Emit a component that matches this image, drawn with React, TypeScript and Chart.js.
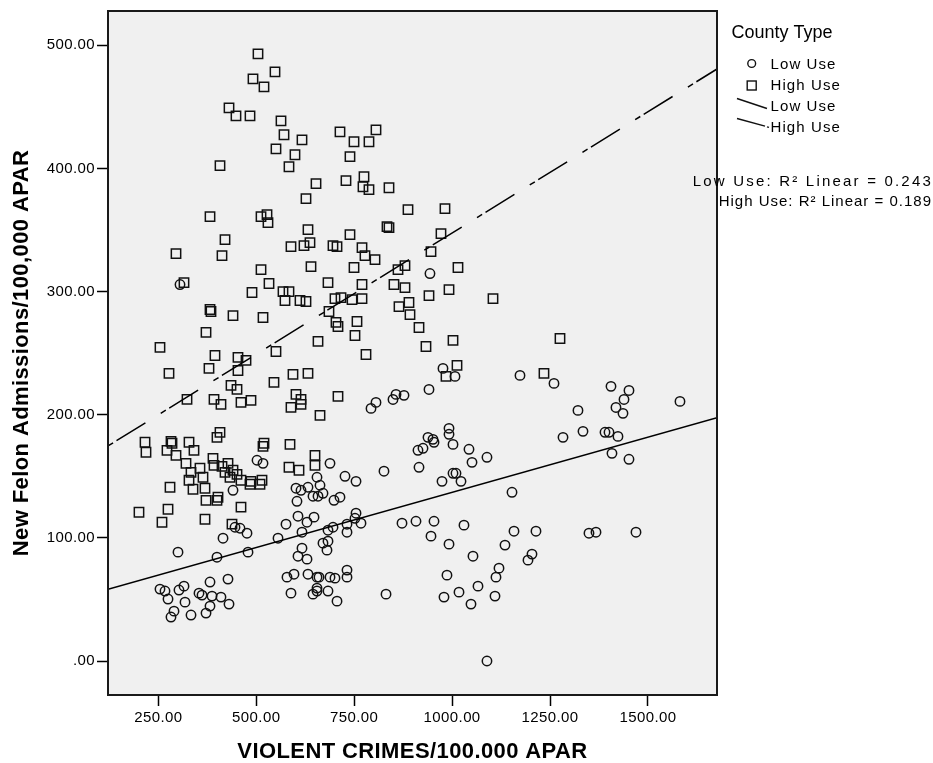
import React, { useEffect, useRef } from 'react';
import { Chart, registerables } from 'chart.js';

Chart.register(...registerables);

// Low Use counties (circles)
const lowX = [305.4, 943.5, 793.0, 805.7, 849.1, 856.8, 877.2, 976.7, 1007.4, 1173.3, 1260.1, 941.0, 1405.6, 1451.5, 1438.8, 1418.3, 1436.2, 1581.7, 1321.3, 1334.1, 1283.1, 1390.3, 1400.5, 1423.4, 1408.1, 1451.5, 992.1, 992.1, 1002.3, 938.4, 951.2, 953.8, 925.7, 912.9, 1043.1, 1050.8, 1089.0, 915.5, 1002.3, 1009.9, 974.2, 1022.7, 1152.9, 872.1, 907.8, 953.8, 1030.3, 946.1, 992.1, 1053.3, 1158.0, 1214.1, 1135.0, 1203.9, 1193.7, 1119.7, 1112.0, 1349.4, 1367.3, 1469.4, 986.9, 1066.1, 1017.6, 979.3, 1048.2, 1109.5, 1089.0, 502.0, 517.3, 688.3, 826.1, 726.6, 754.7, 655.1, 662.8, 670.4, 601.5, 614.3, 632.1, 644.9, 657.7, 604.0, 698.5, 713.8, 440.7, 606.6, 647.5, 576.0, 629.6, 616.8, 683.2, 696.0, 754.7, 752.1, 731.7, 767.4, 731.7, 445.8, 458.6, 476.4, 415.2, 555.6, 479.0, 399.8, 300.3, 670.4, 683.2, 680.6, 616.8, 606.6, 629.6, 578.5, 596.4, 632.1, 655.1, 660.2, 688.3, 701.0, 731.7, 731.7, 588.7, 644.9, 655.1, 655.1, 683.2, 706.2, 831.3, 254.3, 267.1, 274.8, 302.8, 315.6, 318.2, 290.1, 282.4, 333.5, 353.9, 361.6, 382.0, 387.1, 410.0, 382.0, 371.8, 430.5, 427.9];
const lowY = [305.7, 314.6, 205.1, 210.0, 212.4, 216.5, 215.7, 237.6, 231.1, 231.9, 225.4, 220.5, 223.0, 219.7, 212.4, 205.9, 201.1, 210.8, 203.5, 186.5, 181.6, 185.7, 185.7, 182.4, 168.6, 163.8, 188.9, 184.1, 175.9, 181.6, 180.0, 177.6, 172.7, 171.1, 171.9, 161.3, 165.4, 157.3, 152.4, 152.4, 145.9, 145.9, 137.0, 111.9, 113.5, 113.5, 110.3, 101.4, 94.9, 85.1, 105.4, 105.4, 94.1, 86.8, 81.9, 75.4, 68.1, 103.8, 104.6, 104.6, 69.7, 60.8, 55.9, 51.9, 46.2, 52.7, 0.0, 163.0, 160.5, 160.5, 154.1, 150.0, 145.9, 149.2, 142.7, 136.2, 140.3, 138.6, 141.1, 133.8, 133.8, 129.7, 130.5, 133.0, 138.6, 117.6, 116.8, 111.1, 112.7, 104.6, 106.2, 108.6, 120.0, 115.9, 111.1, 111.9, 104.6, 108.6, 107.8, 103.8, 99.7, 99.7, 88.4, 84.3, 88.4, 95.7, 97.3, 90.0, 91.6, 85.1, 82.7, 68.1, 70.5, 70.5, 68.1, 68.1, 68.1, 67.3, 73.8, 68.1, 55.1, 54.3, 59.2, 56.8, 56.8, 48.6, 54.3, 58.4, 56.8, 50.3, 57.6, 60.8, 47.8, 40.5, 35.7, 37.3, 55.1, 53.5, 64.1, 52.7, 51.9, 44.6, 38.9, 46.2, 66.5];

// High Use counties (squares)
const highX = [504.5, 491.7, 547.9, 519.8, 430.5, 448.3, 484.1, 563.2, 570.9, 616.8, 550.4, 598.9, 583.6, 407.5, 713.8, 749.6, 787.8, 805.7, 739.3, 652.6, 627.0, 729.1, 775.1, 772.5, 787.8, 838.9, 887.4, 382.0, 512.2, 527.5, 530.0, 632.1, 739.3, 833.8, 838.9, 420.3, 981.8, 971.6, 295.2, 412.6, 588.7, 621.9, 637.2, 695.9, 706.2, 770.0, 777.6, 803.2, 749.6, 512.2, 639.8, 315.6, 532.6, 489.2, 568.3, 583.6, 573.4, 611.7, 627.0, 683.2, 770.0, 851.6, 879.7, 861.9, 879.7, 701.0, 716.4, 744.5, 770.0, 382.0, 384.5, 440.7, 517.3, 371.8, 685.7, 703.6, 708.7, 757.2, 752.1, 657.7, 864.4, 889.9, 892.5, 915.5, 254.3, 394.7, 453.4, 473.9, 453.4, 379.4, 550.4, 780.2, 277.3, 593.8, 632.1, 545.3, 435.6, 450.9, 323.3, 392.2, 410.0, 461.1, 486.6, 601.5, 614.3, 614.3, 588.7, 708.7, 662.8, 216.1, 218.6, 282.4, 285.0, 272.2, 295.2, 328.4, 341.1, 407.5, 399.8, 519.8, 517.3, 586.2, 650.0, 650.0, 320.7, 583.6, 609.2, 946.1, 1015.0, 941.0, 992.1, 1104.4, 933.3, 1002.3, 1275.4, 1012.5, 984.4, 1234.5, 333.5, 328.4, 356.4, 364.1, 389.6, 392.2, 412.6, 427.9, 420.3, 440.7, 450.9, 433.0, 461.1, 486.6, 514.7, 509.6, 484.1, 338.6, 369.2, 371.8, 402.4, 399.8, 461.1, 369.2, 438.1, 200.7, 274.8, 259.4, 279.9];
const highY = [493.0, 472.7, 478.4, 466.2, 449.2, 442.7, 442.7, 438.6, 427.3, 423.2, 415.9, 411.1, 401.3, 402.2, 429.7, 421.6, 421.6, 431.3, 409.5, 387.6, 375.4, 390.0, 393.2, 385.1, 382.7, 384.3, 366.5, 360.8, 360.8, 362.4, 355.9, 350.3, 346.2, 352.7, 351.9, 342.2, 367.3, 347.0, 330.8, 329.2, 336.5, 337.3, 339.7, 337.3, 336.5, 335.7, 329.2, 325.9, 319.5, 317.8, 320.3, 307.3, 306.5, 299.2, 300.0, 300.0, 292.7, 292.7, 291.9, 307.3, 305.7, 305.7, 321.1, 317.8, 303.2, 294.3, 295.1, 293.5, 294.3, 285.4, 283.8, 280.5, 278.9, 266.8, 283.8, 274.9, 271.6, 275.7, 264.3, 259.5, 287.8, 291.1, 281.3, 270.8, 254.6, 248.1, 246.5, 244.1, 235.9, 237.6, 251.3, 248.9, 233.5, 232.7, 233.5, 226.2, 223.8, 220.5, 212.4, 212.4, 208.4, 210.0, 211.6, 216.5, 212.4, 208.4, 205.9, 214.9, 199.5, 177.6, 169.5, 178.4, 176.8, 171.1, 167.0, 177.6, 171.1, 185.7, 181.6, 176.8, 174.3, 175.9, 167.0, 158.9, 160.5, 157.3, 154.9, 332.4, 319.5, 296.7, 301.6, 294.3, 255.4, 260.3, 261.9, 240.0, 231.1, 233.5, 153.2, 146.8, 156.5, 149.2, 164.6, 158.9, 158.1, 160.5, 153.2, 154.9, 151.6, 149.2, 146.8, 145.9, 146.8, 143.5, 143.5, 139.5, 140.3, 130.5, 133.0, 130.5, 124.9, 115.1, 111.1, 120.8, 123.2, 112.7, 141.1];

// Fit lines (end points across the x range)
const fitX = [121.6, 1676.2];
const lowFitY = [58.3, 197.6];
const highFitY = [174.6, 480.7];

const xTicks = [250, 500, 750, 1000, 1250, 1500];
const yTicks = [0, 100, 200, 300, 400, 500];
const xRange = [121.6, 1676.2];
const yRange = [-27.6, 527.8];

const legendTitle = 'County Type';
const legendItems = ['Low Use', 'High Use', 'Low Use', 'High Use'];
const r2Lines = ['Low Use: R\u00B2 Linear = 0.243', 'High Use: R\u00B2 Linear = 0.189'];
const xTitle = 'VIOLENT CRIMES/100.000 APAR';
const yTitle = 'New Felon Admissions/100,000 APAR';

const FONT = '"Liberation Sans", Arial, sans-serif';
const fmt = (v: number) => (v === 0 ? '.00' : v.toFixed(2));
const zip = (xs: number[], ys: number[]) => xs.map((x, i) => ({ x, y: ys[i] }));

const spssPlugin = {
  id: 'spss',
  beforeDraw(chart: any) {
    const { ctx, chartArea: a } = chart;
    ctx.save();
    ctx.fillStyle = '#f0f0f0';
    ctx.fillRect(a.left, a.top, a.right - a.left, a.bottom - a.top);
    ctx.restore();
    ctx.letterSpacing = '0.4px';
  },
  afterDraw(chart: any) {
    const { ctx, chartArea: a } = chart;
    ctx.save();
    ctx.letterSpacing = '0px';
    ctx.strokeStyle = '#1a1a1a';
    ctx.lineWidth = 2;
    ctx.strokeRect(a.left, a.top, a.right - a.left, a.bottom - a.top);

    ctx.fillStyle = '#000';
    ctx.textBaseline = 'middle';
    ctx.textAlign = 'left';
    ctx.font = `18px ${FONT}`;
    ctx.fillText(legendTitle, 731.5, 33.5);

    ctx.strokeStyle = '#111';
    ctx.lineWidth = 1.4;
    ctx.beginPath();
    ctx.arc(751.7, 63.5, 3.9, 0, Math.PI * 2);
    ctx.stroke();
    ctx.strokeRect(747.2, 81, 9, 9);
    ctx.beginPath();
    ctx.moveTo(737, 98.5);
    ctx.lineTo(767, 108.5);
    ctx.stroke();
    ctx.beginPath();
    ctx.moveTo(737, 118.5);
    ctx.lineTo(765, 126.2);
    ctx.stroke();
    ctx.beginPath();
    ctx.moveTo(767, 126.8);
    ctx.lineTo(769, 127.4);
    ctx.stroke();

    ctx.font = `15px ${FONT}`;
    ctx.letterSpacing = '1.1px';
    const ys = [64.5, 86, 106.5, 128];
    legendItems.forEach((t, i) => ctx.fillText(t, 770.5, ys[i]));

    ctx.textAlign = 'right';
    ctx.letterSpacing = '2.2px';
    ctx.fillText(r2Lines[0], 933, 181.5);
    ctx.letterSpacing = '1px';
    ctx.fillText(r2Lines[1], 932, 201.5);
    ctx.restore();
  },
};

export default function App() {
  const ref = useRef<HTMLCanvasElement | null>(null);
  useEffect(() => {
    if (!ref.current) return;
    const chart = new Chart(ref.current, {
      type: 'scatter',
      data: {
        datasets: [
          {
            type: 'line',
            label: 'Low Use fit',
            data: zip(fitX, lowFitY),
            borderColor: '#000',
            borderWidth: 1.5,
            pointRadius: 0,
            showLine: true,
            fill: false,
          } as any,
          {
            type: 'line',
            label: 'High Use fit',
            data: zip(fitX, highFitY),
            borderColor: '#000',
            borderWidth: 1.5,
            borderDash: [6, 4, 34, 18],
            pointRadius: 0,
            showLine: true,
            fill: false,
          } as any,
          {
            label: 'Low Use',
            data: zip(lowX, lowY),
            pointStyle: 'circle',
            pointRadius: 4.7,
            pointBorderWidth: 1.5,
            pointBorderColor: '#111',
            pointBackgroundColor: 'rgba(0,0,0,0)',
            borderColor: '#111',
            backgroundColor: 'rgba(0,0,0,0)',
          },
          {
            label: 'High Use',
            data: zip(highX, highY),
            pointStyle: 'rect',
            pointRadius: 6.6,
            pointBorderWidth: 1.5,
            pointBorderColor: '#111',
            pointBackgroundColor: 'rgba(0,0,0,0)',
            borderColor: '#111',
            backgroundColor: 'rgba(0,0,0,0)',
          },
        ],
      },
      options: {
        animation: false,
        responsive: false,
        maintainAspectRatio: false,
        devicePixelRatio: 1,
        layout: { padding: { left: 0, top: 10, right: 216, bottom: 0 } },
        plugins: { legend: { display: false }, tooltip: { enabled: false } },
        scales: {
          x: {
            type: 'linear',
            min: xRange[0],
            max: xRange[1],
            afterBuildTicks: (s: any) => {
              s.ticks = xTicks.map((v) => ({ value: v }));
            },
            afterFit: (s: any) => {
              s.height = 68;
            },
            ticks: {
              callback: (v: any) => fmt(Number(v)),
              font: { family: FONT, size: 15 },
              color: '#000',
              padding: 3,
              maxRotation: 0,
              autoSkip: false,
            },
            grid: { drawOnChartArea: false, drawTicks: true, tickLength: 11, tickColor: '#000', tickWidth: 1.5 },
            border: { display: false },
            title: {
              display: true,
              text: xTitle,
              color: '#000',
              font: { family: FONT, size: 22, weight: 'bold', lineHeight: 1 },
              padding: { top: 0, bottom: 0 },
            },
          },
          y: {
            type: 'linear',
            min: yRange[0],
            max: yRange[1],
            afterBuildTicks: (s: any) => {
              s.ticks = yTicks.map((v) => ({ value: v }));
            },
            afterFit: (s: any) => {
              s.width = 108;
            },
            ticks: {
              callback: (v: any) => fmt(Number(v)),
              font: { family: FONT, size: 15 },
              color: '#000',
              padding: 2,
              autoSkip: false,
            },
            grid: { drawOnChartArea: false, drawTicks: true, tickLength: 11, tickColor: '#000', tickWidth: 1.5 },
            border: { display: false },
            title: {
              display: true,
              text: yTitle,
              color: '#000',
              font: { family: FONT, size: 22, weight: 'bold', lineHeight: 1 },
              padding: { top: 11, bottom: 0 },
            },
          },
        },
      } as any,
      plugins: [spssPlugin],
    });
    return () => chart.destroy();
  }, []);
  return (
    <div style={{ position: 'fixed', left: 0, top: 0, width: 933, height: 763, background: '#fff' }}>
      <canvas ref={ref} width={933} height={763} style={{ width: 933, height: 763, display: 'block' }} />
    </div>
  );
}
